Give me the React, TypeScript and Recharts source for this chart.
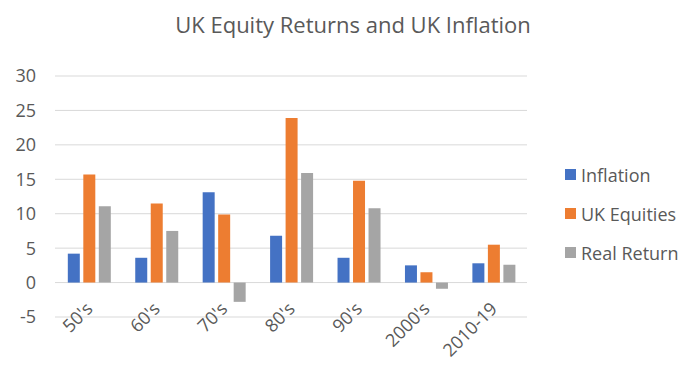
import React from "react";
import { BarChart, Bar, XAxis, YAxis, CartesianGrid, Legend } from "recharts";

const categories = ["50's", "60's", "70's", "80's", "90's", "2000's", "2010-19"];
const seriesNames = ["Inflation", "UK Equities", "Real Return"];
const inflation = [4.2, 3.6, 13.1, 6.8, 3.6, 2.5, 2.8];
const ukEquities = [15.7, 11.5, 9.9, 23.9, 14.8, 1.5, 5.5];
const realReturn = [11.1, 7.5, -2.8, 15.9, 10.8, -0.9, 2.6];
const yTicks = [-5, 0, 5, 10, 15, 20, 25, 30];

const data = categories.map((c, i) => ({
  name: c,
  Inflation: inflation[i],
  "UK Equities": ukEquities[i],
  "Real Return": realReturn[i],
}));

const FONT = "'Open Sans', 'Noto Sans', sans-serif";
const TEXT = "#595959";

const XTick = (props: any) => {
  const { x, y, payload } = props;
  return (
    <g transform={`translate(${x + 5},${y - 15})`}>
      <text
        x={0}
        y={0}
        textAnchor="end"
        transform="rotate(-45)"
        fill={TEXT}
        fontSize={18}
        fontFamily={FONT}
      >
        {payload.value}
      </text>
    </g>
  );
};

const LegendContent = (props: any) => {
  const { payload } = props;
  const items = seriesNames.map((n) => payload.find((p: any) => p.value === n)).filter(Boolean);
  return (
    <div style={{ paddingLeft: 38, fontFamily: FONT }}>
      {items.map((p: any) => (
        <div
          key={p.value}
          style={{
            display: "flex",
            alignItems: "center",
            height: 39,
            color: TEXT,
            fontSize: 18,
            whiteSpace: "nowrap",
          }}
        >
          <span
            style={{ width: 11, height: 11, background: p.color, display: "inline-block", marginRight: 5, flex: "none" }}
          />
          {p.value}
        </div>
      ))}
    </div>
  );
};

export default function App() {
  return (
    <div style={{ position: "absolute", left: 0, top: 0, width: 700, height: 373, background: "#fff" }}>
      <div
        style={{
          position: "absolute",
          left: 3,
          top: 10,
          width: 700,
          textAlign: "center",
          fontFamily: FONT,
          fontSize: 22,
          color: TEXT,
          lineHeight: "28px",
        }}
      >
        UK Equity Returns and UK Inflation
      </div>
      <BarChart
        width={700}
        height={373}
        data={data}
        margin={{ top: 76, right: 33, bottom: 0, left: 0 }}
        barCategoryGap="19%"
        barGap={3.5}
      >
        <CartesianGrid vertical={false} stroke="#D9D9D9" strokeWidth={1} />
        <XAxis
          dataKey="name"
          axisLine={false}
          tickLine={false}
          height={56}
          interval={0}
          tick={<XTick />}
        />
        <YAxis
          domain={[-5, 30]}
          ticks={yTicks}
          axisLine={false}
          tickLine={false}
          width={55}
          tickSize={0}
          tickMargin={19}
          tick={{ fill: TEXT, fontSize: 18, fontFamily: FONT }}
        />
        <Legend
          layout="vertical"
          align="right"
          verticalAlign="middle"
          width={140}
          wrapperStyle={{ top: 155 }}
          content={<LegendContent />}
        />
        <Bar dataKey="Inflation" fill="#4472C4" isAnimationActive={false} />
        <Bar dataKey="UK Equities" fill="#ED7D31" isAnimationActive={false} />
        <Bar dataKey="Real Return" fill="#A5A5A5" isAnimationActive={false} />
      </BarChart>
    </div>
  );
}
